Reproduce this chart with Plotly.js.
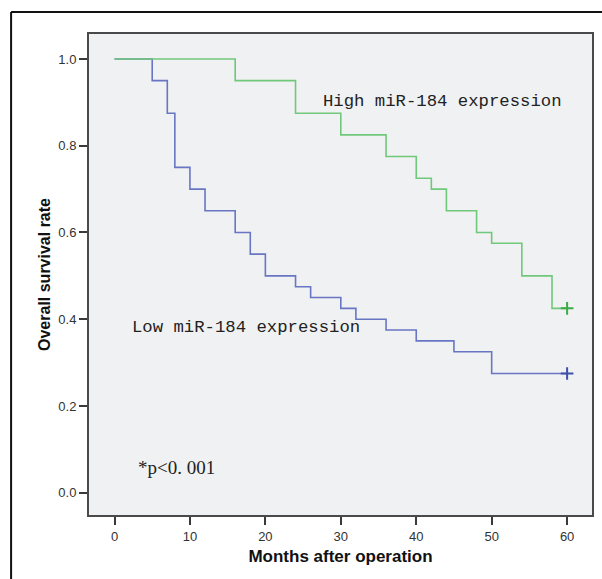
<!DOCTYPE html>
<html>
<head>
<meta charset="utf-8">
<script src="https://cdn.plot.ly/plotly-3.0.1.min.js"></script>
<style>
  html, body { margin: 0; padding: 0; background: #ffffff; }
  #chart { width: 602px; height: 579px; }
</style>
</head>
<body>
<div id="chart"></div>
<script>
// Kaplan-Meier step data
const lowMonths  = [0, 5, 7, 8, 10, 12, 16, 18, 20, 24, 26, 30, 32, 36, 40, 45, 50, 60];
const lowSurv    = [1.0, 0.95, 0.875, 0.75, 0.70, 0.65, 0.60, 0.55, 0.50, 0.475, 0.45, 0.425, 0.40, 0.375, 0.35, 0.325, 0.275, 0.275];
const highMonths = [0, 16, 24, 30, 36, 40, 42, 44, 48, 50, 54, 58, 60];
const highSurv   = [1.0, 0.95, 0.875, 0.825, 0.775, 0.725, 0.70, 0.65, 0.60, 0.575, 0.50, 0.425, 0.425];
const lowCensorMonths  = [60];
const lowCensorSurv    = [0.275];
const highCensorMonths = [60];
const highCensorSurv   = [0.425];
const xTicks = [0, 10, 20, 30, 40, 50, 60];
const yTicks = [0.0, 0.2, 0.4, 0.6, 0.8, 1.0];
const yTickLabels = ["0.0", "0.2", "0.4", "0.6", "0.8", "1.0"];
const labelHigh = "High miR-184 expression";
const labelLow  = "Low miR-184 expression";
const labelP    = "*p<0. 001";
const xTitle = "Months after operation";
const yTitle = "Overall survival rate";

const blueLine = "rgb(104,118,196)";
const greenLine = "rgb(112,200,122)";

const traces = [
  {
    x: lowMonths, y: lowSurv, type: "scatter", mode: "lines",
    line: { shape: "hv", color: blueLine, width: 1.6 },
    hoverinfo: "skip", showlegend: false
  },
  {
    x: highMonths, y: highSurv, type: "scatter", mode: "lines",
    line: { shape: "hv", color: greenLine, width: 1.6 },
    hoverinfo: "skip", showlegend: false
  },
  {
    x: lowCensorMonths, y: lowCensorSurv, type: "scatter", mode: "markers",
    marker: { symbol: "cross-thin-open", size: 9, color: "rgb(62,80,170)", line: { color: "rgb(62,80,170)", width: 2 } },
    hoverinfo: "skip", showlegend: false
  },
  {
    x: highCensorMonths, y: highCensorSurv, type: "scatter", mode: "markers",
    marker: { symbol: "cross-thin-open", size: 9, color: "rgb(58,172,70)", line: { color: "rgb(58,172,70)", width: 2 } },
    hoverinfo: "skip", showlegend: false
  }
];

const layout = {
  width: 602, height: 579,
  margin: { l: 89, r: 9.5, t: 34, b: 64, pad: 0 },
  paper_bgcolor: "#ffffff",
  plot_bgcolor: "#f0f1f2",
  showlegend: false,
  xaxis: {
    range: [-3.38, 63.3],
    tickmode: "array", tickvals: xTicks,
    ticks: "outside", ticklen: 8, tickwidth: 2, tickcolor: "#3a3a3a",
    showgrid: false, zeroline: false,
    showline: true, linecolor: "#4a4a4a", linewidth: 2, mirror: true,
    tickfont: { family: "Liberation Sans, Arial, sans-serif", size: 13, color: "#333333" },
    title: { text: xTitle, standoff: 8,
      font: { family: "Liberation Sans, Arial, sans-serif", size: 17, color: "#111111", weight: "bold" } }
  },
  yaxis: {
    range: [-0.0514, 1.0576],
    tickmode: "array", tickvals: yTicks, ticktext: yTickLabels,
    ticks: "outside", ticklen: 8, tickwidth: 2, tickcolor: "#3a3a3a",
    showgrid: false, zeroline: false,
    showline: true, linecolor: "#4a4a4a", linewidth: 2, mirror: true,
    tickfont: { family: "Liberation Sans, Arial, sans-serif", size: 13, color: "#333333" },
    title: { text: yTitle, standoff: 4,
      font: { family: "Liberation Sans, Arial, sans-serif", size: 16, color: "#111111", weight: "bold" } }
  },
  shapes: [
    { type: "line", xref: "paper", yref: "paper", x0: -0.1549, x1: 1.2, y0: 1.0457, y1: 1.0457,
      line: { color: "#111111", width: 2 } },
    { type: "line", xref: "paper", yref: "paper", x0: -0.1549, x1: -0.1549, y0: 1.0457, y1: -0.3,
      line: { color: "#111111", width: 2 } }
  ],
  annotations: [
    { text: labelHigh, x: 27.4, y: 0.903, xref: "x", yref: "y", xanchor: "left", yanchor: "middle",
      showarrow: false, font: { family: "Liberation Mono, monospace", size: 17.3, color: "#222222" } },
    { text: labelLow, x: 2.0, y: 0.382, xref: "x", yref: "y", xanchor: "left", yanchor: "middle",
      showarrow: false, font: { family: "Liberation Mono, monospace", size: 17.3, color: "#222222" } },
    { text: labelP, x: 2.85, y: 0.059, xref: "x", yref: "y", xanchor: "left", yanchor: "middle",
      showarrow: false, font: { family: "Liberation Serif, serif", size: 19, color: "#222222" } }
  ]
};

Plotly.newPlot("chart", traces, layout, { staticPlot: true, displayModeBar: false });
</script>
</body>
</html>
